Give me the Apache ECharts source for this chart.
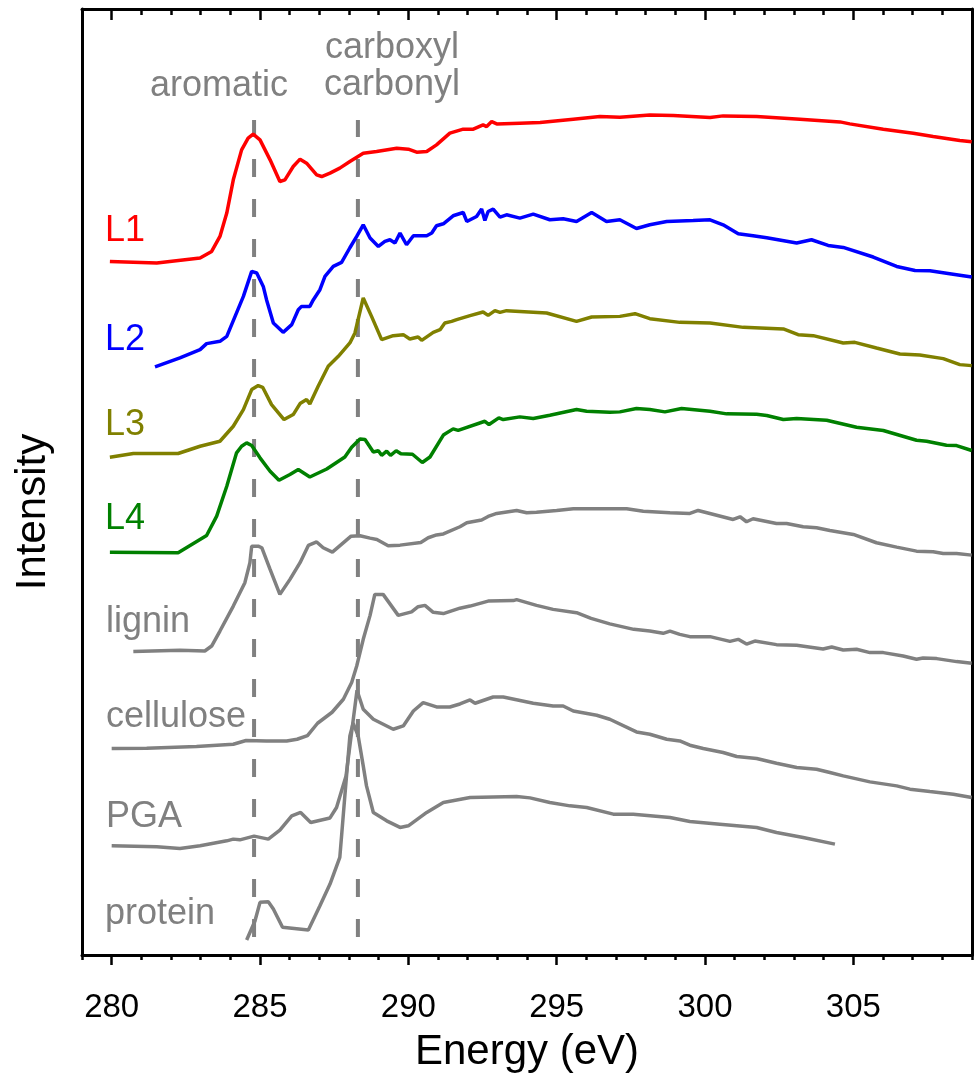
<!DOCTYPE html>
<html>
<head>
<meta charset="utf-8">
<script src="https://cdn.jsdelivr.net/npm/echarts@6/dist/echarts.min.js"></script>
<style>html,body{margin:0;padding:0;background:#fff;}#c{width:977px;height:1078px;}</style>
</head>
<body>
<div id="c"></div>
<script>
// ---- data (energy eV, intensity arbitrary units, offset-stacked) ----
const L1 = [[279.94,694.3],[281.52,692.7],[282.98,697.7],[283.37,704.3],[283.65,719.3],[283.88,742.7],[284.10,776],[284.38,806],[284.60,817.7],[284.77,821.7],[285.00,816],[285.34,796],[285.67,774.3],[285.84,776],[286.12,789.3],[286.35,796.7],[286.57,792.7],[286.91,781],[287.08,779.3],[287.36,782.7],[287.69,787.7],[288.03,794.3],[288.48,802.7],[288.93,804.3],[289.61,807.7],[290.00,806.7],[290.28,803.7],[290.62,804.3],[290.95,811],[291.40,822.7],[291.85,826.7],[292.19,826.7],[292.52,831],[292.64,829.3],[292.81,834.3],[292.98,832],[293.76,832.7],[294.44,833.3],[295.56,836.7],[296.46,839.3],[297.13,838.7],[298.14,841],[298.93,840.3],[300.17,838.3],[300.61,840],[301.74,839.3],[303.20,836.7],[304.55,834],[304.88,832],[306.01,826.7],[307.02,822.7],[307.69,819.3],[308.59,815.3],[308.99,814]];
const L2 = [[281.46,588.7],[282.30,597.7],[282.98,606],[283.20,612],[283.65,614.3],[283.88,619.3],[284.16,639.3],[284.44,659.3],[284.72,684.3],[284.89,682.7],[285.11,669.3],[285.22,656],[285.45,632.7],[285.78,623.3],[286.07,631],[286.29,646],[286.40,649.3],[286.68,649.3],[286.80,656],[287.02,666],[287.19,679.3],[287.47,689.3],[287.75,693.3],[288.03,708],[288.26,719.3],[288.48,731],[288.71,717.7],[288.99,709.3],[289.21,714.3],[289.38,716],[289.55,712.7],[289.72,722.7],[289.94,711],[290.17,720],[290.62,720],[290.79,722.7],[290.95,730],[291.18,732],[291.51,740],[291.85,743.3],[291.97,734.3],[292.30,739.3],[292.47,746.7],[292.58,735.3],[292.69,744.3],[292.86,746.7],[293.09,738.7],[293.31,741],[293.76,737.7],[294.21,741.7],[294.77,736],[295.22,737],[295.67,734.3],[296.18,743.3],[296.68,734.3],[297.13,736],[297.69,727.3],[298.14,731],[298.71,734.3],[299.60,735.3],[300.17,736],[300.61,731],[301.12,722],[301.62,720],[302.08,718],[303.09,712.7],[303.59,716],[304.15,710.3],[304.66,708.3],[305.67,698.7],[306.46,689.3],[307.08,685.3],[307.58,685],[308.25,682],[308.99,678.7]];
const L3 = [[279.94,498.3],[280.73,502],[282.24,502],[282.98,509.3],[283.65,514.3],[284.10,529.3],[284.44,546],[284.72,566],[284.94,570],[285.09,568.3],[285.39,551],[285.81,536],[286.12,541],[286.35,552],[286.57,556],[286.68,551.7],[286.96,569.3],[287.30,589.3],[287.64,599.3],[288.03,612.7],[288.20,622.7],[288.48,657.7],[288.76,639.3],[289.10,616],[289.49,620],[289.83,621],[290.05,616.7],[290.33,618.7],[290.45,615.3],[290.84,623.3],[291.07,626],[291.23,632.7],[291.46,634.3],[291.63,636],[292.08,640],[292.52,643.7],[292.69,640.3],[292.92,645],[293.09,643.3],[293.31,645],[294.66,642.7],[295.67,634.3],[296.18,638.7],[297.13,639.3],[297.64,642],[298.14,637],[299.15,633.3],[300.17,632.7],[301.29,628.3],[302.64,626.7],[303.14,621],[303.65,620],[304.66,612.7],[305.05,613.3],[305.78,607.7],[306.57,601.7],[307.24,600.7],[308.03,597],[308.59,591],[308.99,590]];
const L4 = [[279.94,403.3],[282.24,402.7],[283.20,420],[283.54,439.3],[283.88,469.3],[284.21,502.7],[284.38,509.3],[284.55,512.7],[284.72,510],[285.00,497.7],[285.34,484.3],[285.64,475.3],[286.01,481],[286.29,486],[286.68,478.5],[287.25,486.5],[287.86,498.5],[288.09,508.3],[288.37,516.5],[288.54,516],[288.82,503.5],[288.99,504.8],[289.10,500.2],[289.27,504.3],[289.40,500.2],[289.59,504.8],[289.75,501.7],[290.14,501.3],[290.47,493],[290.73,498.5],[291.18,520.5],[291.51,526.7],[291.68,525.2],[292.58,534.3],[292.72,531],[293.05,537.7],[293.20,536],[293.76,538.7],[294.21,537],[294.77,540.3],[295.67,546],[296.01,544.3],[296.79,543.3],[297.13,543.7],[297.69,547],[298.14,546],[298.65,543.7],[299.21,547],[300.17,544.3],[300.73,541.7],[301.74,541.3],[302.08,540],[302.64,536],[303.09,537],[304.10,535.3],[305.11,528.3],[306.01,525],[307.13,515.3],[307.47,514.3],[308.14,510.3],[308.48,510],[308.99,505]];
const lignin = [[280.73,303.7],[282.30,305],[283.14,304.3],[283.37,309.3],[283.65,324.3],[284.10,349.3],[284.49,372.7],[284.66,392.7],[284.72,409.3],[284.94,409.3],[285.06,407.7],[285.34,386],[285.67,361],[286.01,376],[286.35,392.7],[286.63,410],[286.91,413.5],[287.13,407.7],[287.44,403.3],[288.07,419.3],[288.37,419.7],[288.71,417.3],[288.94,416],[289.32,409.7],[289.72,410.3],[290.42,413],[290.67,417.7],[290.95,420.5],[291.18,421.5],[291.74,428.7],[291.97,432.7],[292.47,435.5],[292.69,439],[292.98,442],[293.65,445],[293.99,442.7],[294.32,443.3],[295.00,445],[295.56,446.7],[297.36,446.7],[297.92,444.3],[298.82,442.7],[299.49,442],[299.77,445],[300.95,436],[301.18,438.7],[301.40,433.7],[301.62,436.7],[302.41,432],[302.75,432],[303.31,428.7],[303.76,427.7],[304.21,425],[305.00,421],[305.78,412.7],[306.46,408.3],[307.13,404.3],[307.69,403.7],[308.03,402],[308.48,402],[308.99,400.3]];
const cellulose = [[280.00,206.7],[281.18,207],[282.86,208.7],[284.10,211],[284.53,214.7],[285.22,214.3],[285.90,214.3],[286.25,216],[286.60,219.7],[286.94,232],[287.43,243],[287.81,256],[288.09,272.7],[288.26,289.3],[288.48,316],[288.71,340],[288.87,361],[289.15,361],[289.66,340],[290.11,343.5],[290.33,348.7],[290.56,350],[290.84,343],[291.18,341.8],[291.74,347.2],[292.08,349.3],[292.69,354.3],[293.54,354.8],[293.65,355.7],[294.32,350],[294.88,346],[295.67,342.7],[296.16,337],[296.79,331.5],[297.60,326],[298.14,324.3],[298.59,322],[298.82,324.3],[299.15,321],[299.49,318.7],[300.17,318.7],[300.84,314],[301.12,316],[301.40,311.3],[301.68,314.3],[302.41,310.7],[303.09,310],[303.98,306.3],[304.27,308.3],[304.66,305.3],[305.11,306],[305.56,302.7],[306.01,302.7],[306.68,299.3],[307.13,296],[307.35,297.3],[307.81,296.7],[308.48,293.7],[308.99,292]];
const PGA = [[280.00,109.3],[281.52,108.3],[282.30,106.7],[282.98,109.3],[283.88,114.3],[284.10,116],[284.32,115.3],[284.80,119],[285.28,116],[285.67,125],[286.07,139.3],[286.37,142.7],[286.71,132.7],[287.36,137.2],[287.58,147.7],[287.90,179.3],[288.27,265],[288.48,246],[288.82,236],[289.49,226],[289.83,229.3],[290.17,244.3],[290.50,252.7],[290.95,248.3],[291.40,248.3],[291.74,251.3],[292.08,255.3],[292.25,252],[292.86,258.3],[293.20,258.3],[294.21,252],[294.88,249.3],[295.22,249.3],[295.56,244.3],[296.35,240],[296.79,236],[297.69,223.3],[298.14,221],[298.71,216],[299.15,214.3],[299.49,210],[299.94,206.7],[300.61,202.7],[301.07,198.7],[301.74,196.7],[302.41,192],[303.09,187.7],[303.76,186],[304.21,182.7],[304.66,179.3],[305.56,173.3],[306.46,169.3],[306.91,166],[307.58,163.7],[308.37,161],[308.99,157.7]];
const protein = [[284.55,15],[284.83,34],[285.00,52.7],[285.28,53.3],[285.45,46],[285.76,27.7],[286.63,25],[287.02,49.3],[287.36,71],[287.69,97.7],[287.75,119.3],[287.86,159.3],[288.03,219.3],[288.14,232],[288.31,219.3],[288.48,189.3],[288.59,169.3],[288.82,142.7],[289.27,134.3],[289.72,127.7],[290.00,129.3],[290.62,142.7],[291.18,152.7],[292.08,157.7],[293.65,158.7],[294.10,157.3],[294.77,152.7],[295.45,149.3],[296.01,147.7],[296.91,141],[297.58,141],[298.82,137.7],[299.49,133.7],[300.50,131],[301.74,127.7],[302.41,122.7],[303.31,117.7],[304.38,111]];
const markerEnergies = [284.8, 288.3];   // aromatic, carboxyl/carbonyl
const markerRange = [18, 836];
const majorTicks = [280, 285, 290, 295, 300, 305];
const seriesNames = ['L1','L2','L3','L4','lignin','cellulose','PGA','protein'];
const seriesData = [L1, L2, L3, L4, lignin, cellulose, PGA, protein];
const seriesColors = ['#ff0000','#0000ff','#808000','#008000','#808080','#808080','#808080','#808080'];

const FONT = '"Liberation Sans", Arial, sans-serif';
function hasFont(name) {
  const ctx = document.createElement('canvas').getContext('2d');
  ctx.font = '40px monospace';
  const a = ctx.measureText('280 Energy wiM').width;
  ctx.font = '40px "' + name + '", monospace';
  const b = ctx.measureText('280 Energy wiM').width;
  return Math.abs(a - b) > 0.5;
}
let tickFont = {family: FONT, size: 33, margin: 36};
if (hasFont('Liberation Sans Narrow')) tickFont = {family: '"Liberation Sans Narrow"', size: 39, margin: 33};
else if (hasFont('Arial Narrow')) tickFont = {family: '"Arial Narrow"', size: 39, margin: 33};

const chart = echarts.init(document.getElementById('c'));
const xBase = {type:'value', min:279, max:309, gridIndex:0, splitLine:{show:false}};
const series = [];
markerEnergies.forEach((e, i) => {
  series.push({
    type:'line', name:'marker'+i, xAxisIndex:0, yAxisIndex:0, symbol:'none', silent:true, z:1,
    data:[[e, markerRange[0]],[e, markerRange[1]]],
    lineStyle:{color:'#808080', width:4, type:[18,22]}
  });
});
seriesData.forEach((d, i) => {
  series.push({
    type:'line', name:seriesNames[i], xAxisIndex:0, yAxisIndex:0, symbol:'none', z:2,
    data:d, lineStyle:{color:seriesColors[i], width:3.5}, itemStyle:{color:seriesColors[i]}
  });
});

// label anchors (pixel placement of text)
const labelPos = [[105,231],[105,340],[105,425],[105,519],[106,622],[106,717],[106,817],[105,914]];
const graphics = seriesNames.map((n, i) => ({
  type:'text', x:labelPos[i][0], y:labelPos[i][1],
  style:{text:n, fill:seriesColors[i], fontSize:36, fontFamily:FONT, align:'left', verticalAlign:'middle'}
}));
graphics.push(
  {type:'text', x:219, y:86, style:{text:'aromatic', fill:'#808080', fontSize:36, fontFamily:FONT, align:'center', verticalAlign:'middle'}},
  {type:'text', x:392, y:48, style:{text:'carboxyl', fill:'#808080', fontSize:36, fontFamily:FONT, align:'center', verticalAlign:'middle'}},
  {type:'text', x:392, y:85, style:{text:'carbonyl', fill:'#808080', fontSize:36, fontFamily:FONT, align:'center', verticalAlign:'middle'}},
  {type:'text', x:33, y:512, rotation:Math.PI/2, style:{text:'Intensity', fill:'#000', fontSize:42, fontFamily:FONT, align:'center', verticalAlign:'middle'}}
);

chart.setOption({
  animation:false,
  backgroundColor:'#fff',
  grid:{left:82, right:5, top:9, bottom:122},
  xAxis:[
    Object.assign({}, xBase, {position:'bottom',
      name:'Energy (eV)', nameLocation:'middle', nameGap:76,
      nameTextStyle:{fontSize:42, fontFamily:FONT, color:'#000'},
      axisLine:{show:true, onZero:false, lineStyle:{color:'#000', width:3}},
      axisTick:{show:true, inside:false, length:10, customValues:majorTicks, lineStyle:{color:'#000', width:2.5}},
      axisLabel:{show:true, customValues:majorTicks, margin:tickFont.margin, fontSize:tickFont.size, fontFamily:tickFont.family, color:'#000'}}),
    Object.assign({}, xBase, {position:'bottom', interval:1,
      axisLine:{show:false, onZero:false},
      axisTick:{show:true, inside:false, length:5, lineStyle:{color:'#000', width:2.5}},
      axisLabel:{show:false}}),
    Object.assign({}, xBase, {position:'top',
      axisLine:{show:true, onZero:false, lineStyle:{color:'#000', width:3}},
      axisTick:{show:true, inside:true, length:11, customValues:majorTicks, lineStyle:{color:'#000', width:2.5}},
      axisLabel:{show:false}}),
    Object.assign({}, xBase, {position:'top', interval:1,
      axisLine:{show:false, onZero:false},
      axisTick:{show:true, inside:true, length:6, lineStyle:{color:'#000', width:2.5}},
      axisLabel:{show:false}})
  ],
  yAxis:[
    {type:'value', min:0, max:947, position:'left', splitLine:{show:false},
      axisLine:{show:true, onZero:false, lineStyle:{color:'#000', width:3}},
      axisTick:{show:false}, axisLabel:{show:false}},
    {type:'value', min:0, max:947, position:'right', splitLine:{show:false},
      axisLine:{show:true, onZero:false, lineStyle:{color:'#000', width:3}},
      axisTick:{show:false}, axisLabel:{show:false}}
  ],
  graphic:graphics,
  series:series
});
</script>
</body>
</html>
